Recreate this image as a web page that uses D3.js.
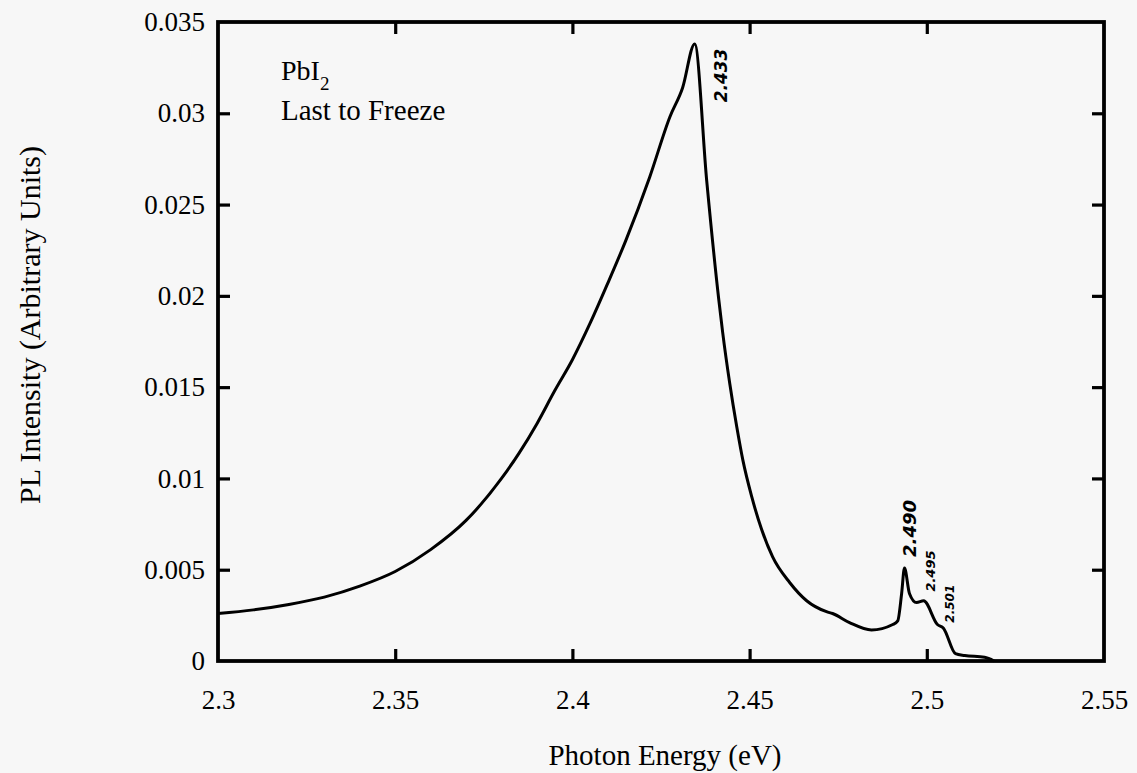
<!DOCTYPE html>
<html>
<head>
<meta charset="utf-8">
<script src="https://cdn.jsdelivr.net/npm/d3@7"></script>
<style>
  html, body { margin: 0; padding: 0; background: #f7f7f7; }
  svg { display: block; }
</style>
</head>
<body>
<script>
// ---- data ----
const energy = [2.300, 2.310, 2.320, 2.330, 2.340, 2.350, 2.360, 2.370, 2.380, 2.385,
  2.390, 2.395, 2.400, 2.405, 2.410, 2.415, 2.4218, 2.4275, 2.4311, 2.4345,
  2.4379, 2.4413, 2.4424, 2.4444, 2.4464, 2.4481, 2.4506, 2.4534, 2.4565, 2.4613,
  2.4661, 2.4717, 2.4734, 2.4782, 2.4844, 2.4904, 2.4918, 2.4929, 2.4937, 2.4951,
  2.4971, 2.4991, 2.5030, 2.5047, 2.5081, 2.5107, 2.5163, 2.5190];
const intensity = [0.0026, 0.0028, 0.0031, 0.0035, 0.0041, 0.0049, 0.0061, 0.0077, 0.0100, 0.0114,
  0.0130, 0.0148, 0.0165, 0.0185, 0.0207, 0.0230, 0.0265, 0.0298, 0.0314, 0.0338,
  0.0263, 0.0198, 0.0180, 0.0152, 0.0128, 0.0110, 0.0090, 0.0072, 0.0057, 0.0043,
  0.0033, 0.0027, 0.0026, 0.0021, 0.0017, 0.0020, 0.0022, 0.0037, 0.0051, 0.0037,
  0.0032, 0.0033, 0.0020, 0.0018, 0.0004, 0.0003, 0.0002, 0.0000];
const xTicks = [2.3, 2.35, 2.4, 2.45, 2.5, 2.55];
const yTicks = [0, 0.005, 0.01, 0.015, 0.02, 0.025, 0.03, 0.035];
const peakLabels = ["2.433", "2.490", "2.495", "2.501"];
const peakEnergy = [2.4345, 2.4937, 2.4975, 2.5032];
const peakLabelBottom = [0.0306, 0.0057, 0.0038, 0.0021];

const W = 1137, H = 773;
const margin = {left: 218, right: 33, top: 22, bottom: 112};
const iw = W - margin.left - margin.right, ih = H - margin.top - margin.bottom;

const svg = d3.select("body").append("svg").attr("width", W).attr("height", H);
svg.append("rect").attr("width", W).attr("height", H).attr("fill", "#f7f7f7");
const g = svg.append("g").attr("transform", `translate(${margin.left},${margin.top})`);

const x = d3.scaleLinear().domain([2.3, 2.55]).range([0, iw]);
const y = d3.scaleLinear().domain([0, 0.035]).range([ih, 0]);

const FONT = "'Liberation Serif', 'Times New Roman', serif";
const tickLen = 12;

function styleAxis(sel, showLabels) {
  sel.select(".domain").remove();
  sel.selectAll(".tick line").attr("stroke", "#000").attr("stroke-width", 3.2);
  sel.selectAll(".tick text").attr("fill", "#000").style("font-family", FONT).style("font-size", "27px");
  if (!showLabels) sel.selectAll(".tick text").remove();
}

const innerX = xTicks.slice(1, -1);
const innerY = yTicks.slice(1, -1);

// bottom axis (labels at all ticks, marks inside)
const gb = g.append("g").attr("transform", `translate(0,${ih})`)
  .call(d3.axisBottom(x).tickValues(xTicks).tickSizeInner(0).tickSizeOuter(0).tickPadding(29)
    .tickFormat(d3.format(".2~f")));
styleAxis(gb, true);
g.append("g").attr("transform", `translate(0,${ih})`)
  .call(d3.axisBottom(x).tickValues(innerX).tickSizeInner(-tickLen).tickSizeOuter(0).tickFormat(""))
  .call(s => styleAxis(s, false));
// top
g.append("g")
  .call(d3.axisTop(x).tickValues(innerX).tickSizeInner(-tickLen).tickSizeOuter(0).tickFormat(""))
  .call(s => styleAxis(s, false));
// left
const gl = g.append("g")
  .call(d3.axisLeft(y).tickValues(yTicks).tickSizeInner(0).tickSizeOuter(0).tickPadding(13)
    .tickFormat(d => d === 0 ? "0" : d3.format(".3~f")(d)));
styleAxis(gl, true);
g.append("g")
  .call(d3.axisLeft(y).tickValues(innerY).tickSizeInner(-tickLen).tickSizeOuter(0).tickFormat(""))
  .call(s => styleAxis(s, false));
// right
g.append("g").attr("transform", `translate(${iw},0)`)
  .call(d3.axisRight(y).tickValues(innerY).tickSizeInner(-tickLen).tickSizeOuter(0).tickFormat(""))
  .call(s => styleAxis(s, false));

// frame
g.append("rect").attr("x", 0).attr("y", 0).attr("width", iw).attr("height", ih)
  .attr("fill", "none").attr("stroke", "#000").attr("stroke-width", 3.8);

// curve
const pts = energy.map((e, i) => [e, intensity[i]]);
g.append("path").datum(pts)
  .attr("fill", "none").attr("stroke", "#000").attr("stroke-width", 3)
  .attr("stroke-linejoin", "round")
  .attr("d", d3.line().x(d => x(d[0])).y(d => y(d[1])).curve(d3.curveMonotoneX));

// in-plot labels
const lab = g.append("text").attr("x", 63).attr("y", 58)
  .style("font-family", FONT).style("font-size", "28px").attr("fill", "#000");
lab.append("tspan").text("PbI");
lab.append("tspan").attr("dy", 10).style("font-size", "19px").text("2");
g.append("text").attr("x", 63).attr("y", 98)
  .style("font-family", FONT).style("font-size", "29px").attr("fill", "#000").text("Last to Freeze");

// handwritten peak annotations (rotated)
const annoDx = [32, 12, 17, 16];
const annoSize = [17, 18, 13, 12];
peakLabels.forEach((t, i) => {
  g.append("text")
    .attr("transform", `translate(${x(peakEnergy[i]) + annoDx[i]},${y(peakLabelBottom[i])}) rotate(-90)`)
    .style("font-family", "'DejaVu Sans', sans-serif")
    .style("font-size", annoSize[i] + "px")
    .style("font-weight", "bold")
    .style("font-style", "italic")
    .attr("fill", "#000").text(t);
});

// axis titles
svg.append("text").attr("x", 665).attr("y", 765).attr("text-anchor", "middle")
  .style("font-family", FONT).style("font-size", "29px").attr("fill", "#000").text("Photon Energy (eV)");
svg.append("text").attr("transform", `translate(40,325) rotate(-90)`)
  .attr("text-anchor", "middle")
  .style("font-family", FONT).style("font-size", "30px").attr("fill", "#000").text("PL Intensity (Arbitrary Units)");
</script>
</body>
</html>
